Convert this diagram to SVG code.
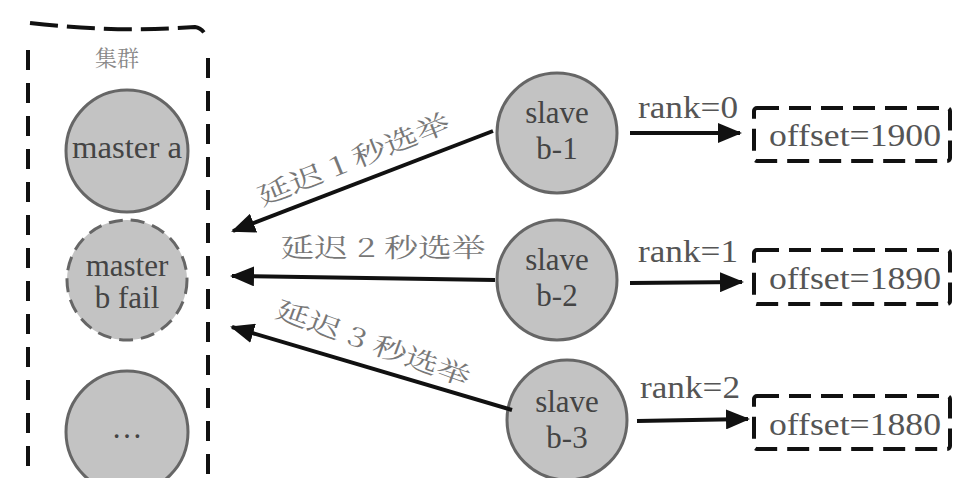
<svg xmlns="http://www.w3.org/2000/svg" width="974" height="478" viewBox="0 0 974 478">
<style>
.node{fill:#c3c3c3;stroke:#666;stroke-width:3}
.fail{stroke-dasharray:14 8}
.ntxt{font-family:'Liberation Serif','Times New Roman',serif;font-size:31px;fill:#444;text-anchor:middle}
.lbl{font-family:'Liberation Serif','Times New Roman',serif;font-size:31px;fill:#555;text-anchor:middle}
.cjk{font-family:'Noto Serif CJK SC','Noto Sans CJK SC',serif;font-size:26px;fill:#777;text-anchor:middle}
.conn{stroke:#111;stroke-width:4;fill:none}
.box{fill:none;stroke:#111;stroke-width:4;stroke-dasharray:22 10}
.cl{fill:none;stroke:#111;stroke-width:4;stroke-dasharray:20 13}
</style>
<defs>
<marker id="ah" viewBox="0 0 12 10" refX="11" refY="5" markerWidth="6" markerHeight="5" orient="auto" markerUnits="strokeWidth">
<path d="M0,0 L12,5 L0,10 z" fill="#111"/>
</marker>
</defs>
<rect width="974" height="478" fill="#fff"/>
<g id="cluster">
<path d="M28,50 L28,478" class="cl"/>
<path d="M30,23 Q115,33 195,27 Q203,28 207,38" class="cl" style="stroke-dasharray:28 9"/>
<path d="M208,58 L208,478" class="cl"/>
<text x="117" y="66" class="cjk" style="font-size:22px;fill:#888">集群</text>
</g>
<g id="master-a">
<circle cx="127" cy="151" r="61" class="node"/>
<text x="127" y="158" class="ntxt" textLength="110" lengthAdjust="spacingAndGlyphs">master a</text>
</g>
<g id="master-b">
<circle cx="127" cy="280" r="60" class="node fail"/>
<text x="127" y="276" class="ntxt">master</text>
<text x="127" y="308" class="ntxt">b fail</text>
</g>
<g id="master-etc">
<circle cx="127" cy="432" r="61" class="node"/>
<text x="127" y="438" class="ntxt">…</text>
</g>
<g id="slave-b1">
<circle cx="557" cy="133" r="60" class="node"/>
<text x="557" y="123" class="ntxt">slave</text>
<text x="557" y="159" class="ntxt">b-1</text>
</g>
<g id="slave-b2">
<circle cx="557" cy="280" r="60" class="node"/>
<text x="557" y="270" class="ntxt">slave</text>
<text x="557" y="306" class="ntxt">b-2</text>
</g>
<g id="slave-b3">
<circle cx="567" cy="420" r="60" class="node"/>
<text x="567" y="412" class="ntxt">slave</text>
<text x="567" y="448" class="ntxt">b-3</text>
</g>
<g id="offset-1">
<rect x="754" y="108" width="196" height="53" rx="3" class="box"/>
<text x="855" y="146" class="lbl" textLength="172" lengthAdjust="spacingAndGlyphs">offset=1900</text>
</g>
<g id="offset-2">
<rect x="754" y="250" width="196" height="54" rx="3" class="box"/>
<text x="855" y="289" class="lbl" textLength="172" lengthAdjust="spacingAndGlyphs">offset=1890</text>
</g>
<g id="offset-3">
<rect x="754" y="396" width="196" height="53" rx="3" class="box"/>
<text x="855" y="435" class="lbl" textLength="172" lengthAdjust="spacingAndGlyphs">offset=1880</text>
</g>
<g id="connectors">
<line x1="493" y1="131" x2="233" y2="231" class="conn" marker-end="url(#ah)"/>
<line x1="495" y1="280" x2="232" y2="276" class="conn" marker-end="url(#ah)"/>
<line x1="512" y1="410" x2="232" y2="327" class="conn" marker-end="url(#ah)"/>
<line x1="630" y1="133" x2="740" y2="133" class="conn" marker-end="url(#ah)"/>
<line x1="630" y1="283" x2="742" y2="282" class="conn" marker-end="url(#ah)"/>
<line x1="637" y1="421" x2="748" y2="419" class="conn" marker-end="url(#ah)"/>
<text x="357" y="168" class="cjk" transform="rotate(-22 357 168)" textLength="205" lengthAdjust="spacingAndGlyphs">延迟 1 秒选举</text>
<text x="383" y="257" class="cjk" textLength="205" lengthAdjust="spacingAndGlyphs">延迟 2 秒选举</text>
<text x="370" y="352" class="cjk" transform="rotate(20 370 352)" textLength="205" lengthAdjust="spacingAndGlyphs">延迟 3 秒选举</text>
<text x="688" y="118" class="lbl" textLength="100" lengthAdjust="spacingAndGlyphs">rank=0</text>
<text x="688" y="262" class="lbl" textLength="100" lengthAdjust="spacingAndGlyphs">rank=1</text>
<text x="690" y="398" class="lbl" textLength="100" lengthAdjust="spacingAndGlyphs">rank=2</text>
</g>
</svg>
